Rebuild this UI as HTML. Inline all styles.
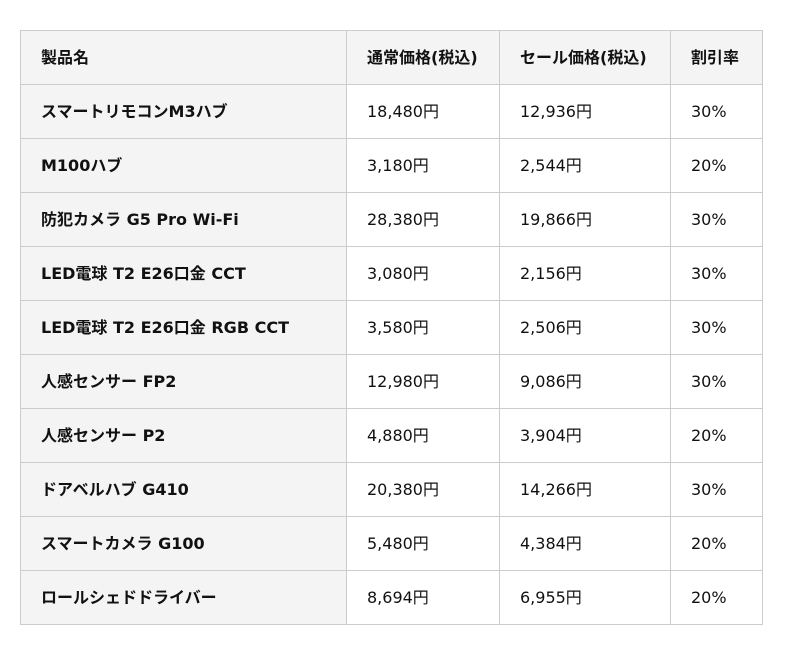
<!DOCTYPE html>
<html><head><meta charset="utf-8"><style>
html,body{margin:0;padding:0;background:#fff;width:800px;height:655px;overflow:hidden}
table{position:absolute;left:20px;top:30px;border-collapse:collapse;table-layout:fixed;font-family:"DejaVu Sans","Liberation Sans","Noto Sans CJK JP",sans-serif;font-size:16px;color:#111}
tr{height:53px}
td,th{border:1px solid #ccc;height:53px;padding:0 0 0 20px;text-align:left;line-height:20px;vertical-align:middle;white-space:nowrap}
th{background:#f4f4f4;font-weight:bold}
td:first-child{background:#f4f4f4;font-weight:bold}
</style></head><body>
<table>
<colgroup><col style="width:326px"><col style="width:153px"><col style="width:171px"><col style="width:92px"></colgroup>
<tr><th>製品名</th><th>通常価格(税込)</th><th>セール価格(税込)</th><th>割引率</th></tr>
<tr><td>スマートリモコンM3ハブ</td><td>18,480円</td><td>12,936円</td><td>30%</td></tr>
<tr><td>M100ハブ</td><td>3,180円</td><td>2,544円</td><td>20%</td></tr>
<tr><td>防犯カメラ G5 Pro Wi-Fi</td><td>28,380円</td><td>19,866円</td><td>30%</td></tr>
<tr><td>LED電球 T2 E26口金 CCT</td><td>3,080円</td><td>2,156円</td><td>30%</td></tr>
<tr><td>LED電球 T2 E26口金 RGB CCT</td><td>3,580円</td><td>2,506円</td><td>30%</td></tr>
<tr><td>人感センサー FP2</td><td>12,980円</td><td>9,086円</td><td>30%</td></tr>
<tr><td>人感センサー P2</td><td>4,880円</td><td>3,904円</td><td>20%</td></tr>
<tr><td>ドアベルハブ G410</td><td>20,380円</td><td>14,266円</td><td>30%</td></tr>
<tr><td>スマートカメラ G100</td><td>5,480円</td><td>4,384円</td><td>20%</td></tr>
<tr><td>ロールシェドドライバー</td><td>8,694円</td><td>6,955円</td><td>20%</td></tr>
</table>
</body></html>
